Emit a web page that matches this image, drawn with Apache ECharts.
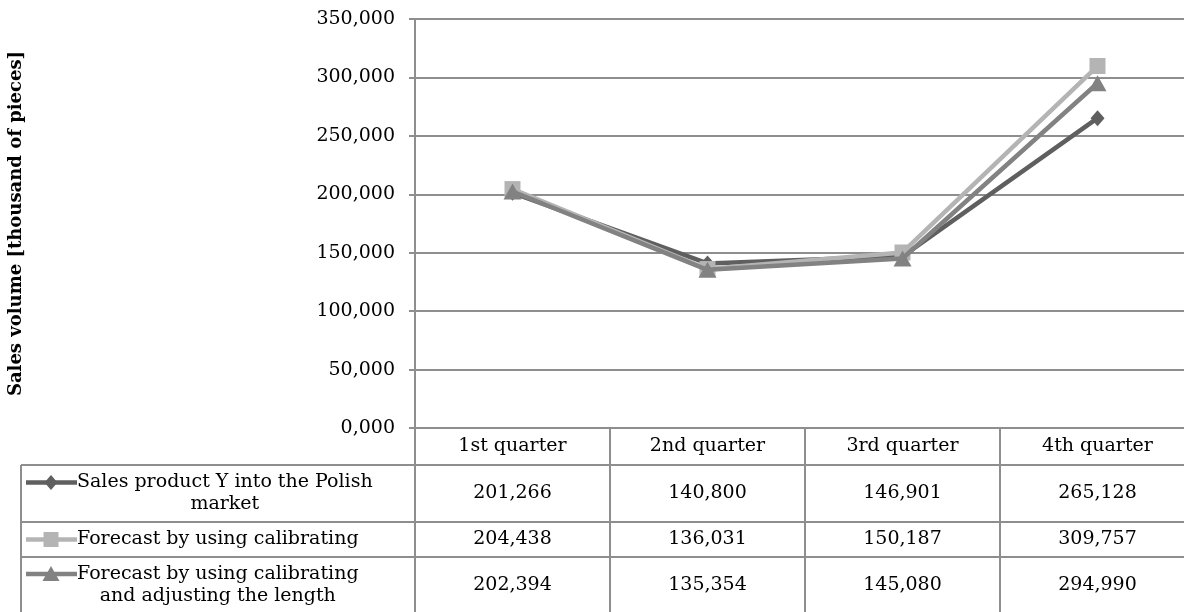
<!DOCTYPE html>
<html>
<head>
<meta charset="utf-8">
<script src="https://cdn.jsdelivr.net/npm/echarts@6/dist/echarts.min.js"></script>
<style>
  html, body { margin: 0; padding: 0; background: #fff; }
  #chart { width: 1184px; height: 612px; }
</style>
</head>
<body>
<div id="chart"></div>
<script>
// Quarterly sales of product Y and two forecasts [thousand of pieces]
const quarters = ['1st quarter', '2nd quarter', '3rd quarter', '4th quarter'];
const salesPolish = [201.266, 140.800, 146.901, 265.128];
const forecastCalibrating = [204.438, 136.031, 150.187, 309.757];
const forecastCalibratingLength = [202.394, 135.354, 145.080, 294.990];
const seriesNames = [
  'Sales product Y into the Polish\nmarket',
  'Forecast by using calibrating',
  'Forecast by using calibrating\nand adjusting the length'
];
const yAxisTitle = 'Sales volume [thousand of pieces]';
const yMin = 0, yMax = 350, yStep = 50;

const FONT = '"DejaVu Serif", serif';
const FS = 19;
const RULE = '#8e8e8e';

// decimal comma, three places
const fmt = v => Number(v).toFixed(3).replace('.', ',');

const seriesValues = [salesPolish, forecastCalibrating, forecastCalibratingLength];
const seriesLook = [
  { color: '#5f5f5f', symbol: 'diamond', size: [14, 16] },
  { color: '#b4b4b4', symbol: 'rect', size: [16, 16] },
  { color: '#828282', symbol: 'triangle', size: [18, 16] }
];

// table rows under the plot
const tableRows = [
  { top: 465, bottom: 522 },
  { top: 522, bottom: 557 },
  { top: 557, bottom: 613 }
];
const tableLeft = 21;
const LINE_H = 22;

const chart = echarts.init(document.getElementById('chart'), null, { renderer: 'canvas' });

const option = {
  animation: false,
  backgroundColor: '#fff',
  textStyle: { fontFamily: FONT },
  grid: { left: 415, right: -11, top: 19, bottom: 184, containLabel: false, outerBoundsMode: 'none' },
  xAxis: {
    type: 'category',
    data: quarters,
    boundaryGap: true,
    axisLine: { show: true, lineStyle: { color: RULE, width: 2 } },
    axisTick: { show: true, inside: false, length: 185, lineStyle: { color: RULE, width: 2 } },
    axisLabel: { color: '#000', fontFamily: FONT, fontSize: FS, margin: 9 },
    splitLine: { show: false }
  },
  yAxis: {
    type: 'value',
    min: yMin, max: yMax, interval: yStep,
    name: yAxisTitle,
    nameLocation: 'middle',
    nameRotate: 90,
    nameGap: 390,
    nameTextStyle: { color: '#000', fontFamily: FONT, fontSize: 18, fontWeight: 'bold' },
    axisLine: { show: true, lineStyle: { color: RULE, width: 2 } },
    axisTick: { show: true, inside: false, length: 6, lineStyle: { color: RULE, width: 2 } },
    axisLabel: { color: '#000', fontFamily: FONT, fontSize: FS, margin: 20, formatter: fmt },
    splitLine: { show: true, lineStyle: { color: RULE, width: 2 } }
  },
  series: seriesValues.map((vals, i) => ({
    type: 'line',
    name: seriesNames[i].replace('\n', ' '),
    data: vals,
    symbol: seriesLook[i].symbol,
    symbolSize: seriesLook[i].size,
    showAllSymbol: true,
    itemStyle: { color: seriesLook[i].color },
    lineStyle: { color: seriesLook[i].color, width: 4.5 },
    emphasis: { disabled: true },
    z: 2 + i
  }))
};
chart.setOption(option);

// ----- data table below the plot -----
const measure = (() => {
  const ctx = document.createElement('canvas').getContext('2d');
  ctx.font = FS + 'px ' + FONT;
  return s => ctx.measureText(s).width;
})();

const colCenters = quarters.map((q, i) => chart.convertToPixel({ xAxisIndex: 0 }, i));
const colW = colCenters[1] - colCenters[0];
const tableRight = colCenters[colCenters.length - 1] + colW / 2;
const plotLeft = colCenters[0] - colW / 2;

const graphics = [];

// horizontal rules
tableRows.forEach(r => {
  graphics.push({
    type: 'line', silent: true, z: 10,
    shape: { x1: tableLeft, y1: r.top, x2: tableRight, y2: r.top },
    style: { stroke: RULE, lineWidth: 2 }
  });
});
// left border of the series-name column
graphics.push({
  type: 'line', silent: true, z: 10,
  shape: { x1: tableLeft, y1: tableRows[0].top, x2: tableLeft, y2: 613 },
  style: { stroke: RULE, lineWidth: 2 }
});
// column rule at the plot's left edge through the table
graphics.push({
  type: 'line', silent: true, z: 10,
  shape: { x1: plotLeft, y1: tableRows[0].top, x2: plotLeft, y2: 613 },
  style: { stroke: RULE, lineWidth: 2 }
});

const keyX1 = 26, keyX2 = 77, keyCx = 51;
tableRows.forEach((r, i) => {
  const lines = seriesNames[i].split('\n');
  const mid = (r.top + r.bottom) / 2;
  const firstY = mid - (lines.length - 1) * LINE_H / 2;
  const look = seriesLook[i];

  // series key: line with marker
  graphics.push({
    type: 'line', silent: true, z: 11,
    shape: { x1: keyX1, y1: firstY, x2: keyX2, y2: firstY },
    style: { stroke: look.color, lineWidth: 4.5 }
  });
  let marker;
  if (look.symbol === 'diamond') {
    marker = { type: 'polygon', shape: { points: [[keyCx, firstY - 7.5], [keyCx + 6.5, firstY], [keyCx, firstY + 7.5], [keyCx - 6.5, firstY]] } };
  } else if (look.symbol === 'rect') {
    marker = { type: 'rect', shape: { x: keyCx - 7.5, y: firstY - 7.5, width: 15, height: 15 } };
  } else {
    marker = { type: 'polygon', shape: { points: [[keyCx, firstY - 8], [keyCx + 8.5, firstY + 7], [keyCx - 8.5, firstY + 7]] } };
  }
  marker.silent = true; marker.z = 12;
  marker.style = { fill: look.color };
  graphics.push(marker);

  // series name, lines centred on the block that starts after the key
  const blockW = Math.max(...lines.map(measure));
  graphics.push({
    type: 'text', silent: true, z: 12,
    style: {
      x: keyX2 + blockW / 2, y: mid,
      text: seriesNames[i],
      font: FS + 'px ' + FONT,
      fill: '#000',
      align: 'center', verticalAlign: 'middle',
      lineHeight: LINE_H
    }
  });

  // values per quarter
  seriesValues[i].forEach((v, j) => {
    graphics.push({
      type: 'text', silent: true, z: 12,
      style: {
        x: colCenters[j], y: mid,
        text: fmt(v),
        font: FS + 'px ' + FONT,
        fill: '#000',
        align: 'center', verticalAlign: 'middle'
      }
    });
  });
});

chart.setOption({ graphic: graphics });
</script>
</body>
</html>
